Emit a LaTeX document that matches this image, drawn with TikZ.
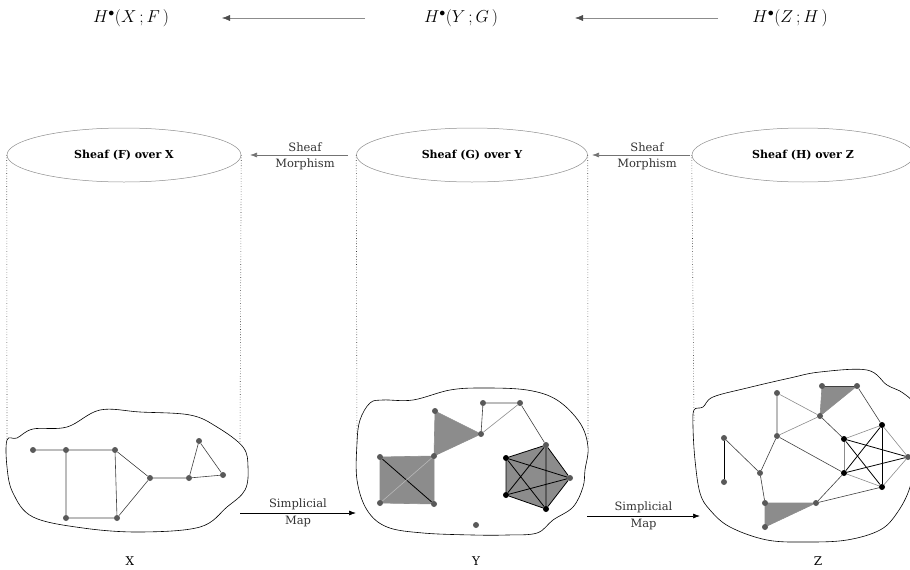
\documentclass[tikz,border=0pt]{standalone}
\usepackage{fontspec}
\setmainfont{DejaVu Serif}
\usetikzlibrary{shapes.geometric,arrows.meta,backgrounds}
\begin{document}
\begin{tikzpicture}[x=1pt,y=-1pt,
  dot/.style={circle,fill=black!65,inner sep=0pt,minimum size=6pt},
  bdot/.style={circle,fill=black,inner sep=0pt,minimum size=6pt},
  edge/.style={black!75,line width=0.6pt},
  ledge/.style={black!45,line width=0.6pt},
  wedge/.style={black!28,line width=0.6pt},
  kedge/.style={black,line width=0.8pt},
  tri/.style={fill=black!45},
  blob/.style={draw=black,line width=0.6pt},
  sheaf/.style={ellipse,draw=black!45,line width=0.5pt,inner sep=0pt,font=\fontsize{11}{13}\selectfont\bfseries},
  vdot/.style={dotted,black!80,line width=0.6pt},
  morph/.style={black!55,line width=0.7pt,-{Latex[length=7pt,width=5pt]}},
  smap/.style={black,line width=0.7pt,-{Latex[length=7pt,width=5pt]}},
  cohom/.style={font=\fontsize{17}{20}\selectfont},
  coarr/.style={black!45,line width=0.5pt,-{Latex[length=8pt,width=6pt,color=black!70]}},
  lbl/.style={font=\fontsize{11.5}{13}\selectfont,text=black!80,inner sep=3pt},
  space/.style={font=\fontsize{12}{14}\selectfont}
]
\useasboundingbox (0,0) rectangle (910,570);

% cohomology row
\node[cohom] (hx) at (131,18) {$H^{\bullet}\!\left(X\,;F\,\right)$};
\node[cohom] (hy) at (461,18) {$H^{\bullet}\!\left(Y\,;G\,\right)$};
\node[cohom] (hz) at (790,18) {$H^{\bullet}\!\left(Z\,;H\,\right)$};
\coordinate (ax1) at (365,18); \coordinate (ax2) at (222,18);
\coordinate (ay1) at (718,18); \coordinate (ay2) at (575,18);
\draw[coarr] (ax1) -- (ax2);
\draw[coarr] (ay1) -- (ay2);

% sheaf ellipses
\node[sheaf,minimum width=234pt,minimum height=54pt] (eF) at (124,155) {Sheaf (F) over X};
\node[sheaf,minimum width=231pt,minimum height=54pt] (eG) at (472,155) {Sheaf (G) over Y};
\node[sheaf,minimum width=222pt,minimum height=54pt] (eH) at (803,155) {Sheaf (H) over Z};

% sheaf morphisms
\coordinate (m1s) at (348,155); \coordinate (m1e) at (250,155);
\coordinate (m2s) at (690,155); \coordinate (m2e) at (592,155);
\draw[morph] (m1s) -- node[lbl,above,xshift=6pt] (sm1) {Sheaf} node[lbl,below,xshift=6pt] (mm1) {Morphism} (m1e);
\draw[morph] (m2s) -- node[lbl,above,xshift=6pt] (sm2) {Sheaf} node[lbl,below,xshift=6pt] (mm2) {Morphism} (m2e);

% dotted sides
\coordinate (dF1) at (7,440); \coordinate (dF2) at (240,443);
\coordinate (dG1) at (357,442); \coordinate (dG2) at (588,442);
\coordinate (dH1) at (694,422);
\draw[vdot] (eF.west) -- (dF1);
\draw[vdot] (eF.east) -- (dF2);
\draw[vdot] (eG.west) -- (dG1);
\draw[vdot] (eG.east) -- (dG2);
\draw[vdot] (eH.west) -- (dH1);

% blobs
\draw[blob] plot[smooth cycle,tension=0.6] coordinates {(7,440) (17,438) (33,429) (67,427) (100,410) (140,412) (190,415) (217,427) (243,447) (248,467) (245,490) (227,507) (200,527) (140,532) (83,528) (33,517) (13,493) (7,467)};
\draw[blob] plot[smooth cycle,tension=0.6] coordinates {(357,443) (360,420) (370,403) (383,400) (413,400) (450,390) (483,388) (527,390) (557,400) (580,423) (588,447) (585,470) (583,487) (573,507) (553,520) (537,533) (507,535) (473,535) (423,533) (387,527) (367,510) (357,480)};
\draw[blob] plot[smooth cycle,tension=0.6] coordinates {(694,410) (703,407) (713,397) (747,388) (790,378) (820,372) (867,370) (887,385) (903,393) (914,407) (916,450) (910,487) (897,513) (880,530) (847,540) (807,542) (767,540) (730,527) (710,510) (700,493) (695,460) (693,427)};

% simplicial maps
\coordinate (s1s) at (240,513); \coordinate (s1e) at (356,513);
\coordinate (s2s) at (587,516); \coordinate (s2e) at (700,516);
\draw[smap] (s1s) -- node[lbl,above] (sl1) {Simplicial} node[lbl,below] (ml1) {Map} (s1e);
\draw[smap] (s2s) -- node[lbl,above] (sl2) {Simplicial} node[lbl,below] (ml2) {Map} (s2e);

% space labels
\node[space] (lx) at (130,561) {X};
\node[space] (ly) at (476,561) {Y};
\node[space] (lz) at (818,561) {Z};

% ---------- X graph
\node[dot] (x1) at (33,450) {};
\node[dot] (x2) at (66,450) {};
\node[dot] (x3) at (115,450) {};
\node[dot] (x4) at (150,478) {};
\node[dot] (x5) at (66,518) {};
\node[dot] (x6) at (117,518) {};
\node[dot] (x7) at (189,478) {};
\node[dot] (x8) at (199,441) {};
\node[dot] (x9) at (223,475) {};
\begin{scope}[on background layer]
\draw[edge] (x1) -- (x2) -- (x3) -- (x4) -- (x7) -- (x8) -- (x9) -- (x7);
\draw[edge] (x2) -- (x5) -- (x6) -- (x4);
\draw[edge] (x3) -- (x6);
\end{scope}

% ---------- Y graph
\node[dot] (y1) at (380,457) {};
\node[dot] (y2) at (434,456) {};
\node[dot] (y3) at (380,503) {};
\node[dot] (y4) at (434,504) {};
\node[dot] (y5) at (435,411) {};
\node[dot] (y6) at (481,434) {};
\node[dot] (y7) at (483,403) {};
\node[dot] (y8) at (520,403) {};
\node[dot] (p1) at (546,445) {};
\node[bdot] (p2) at (506,458) {};
\node[dot] (p3) at (570,478) {};
\node[bdot] (p4) at (506,495) {};
\node[bdot] (p5) at (546,509) {};
\node[dot] (y9) at (476,525) {};
\begin{scope}[on background layer]
\fill[tri] (y1.center) -- (y2.center) -- (y4.center) -- (y3.center) -- cycle;
\fill[tri] (y5.center) -- (y6.center) -- (y2.center) -- cycle;
\fill[tri] (p1.center) -- (p3.center) -- (p5.center) -- (p4.center) -- (p2.center) -- cycle;
\draw[ledge] (y1) -- (y2) -- (y4) -- (y3) -- (y1);
\draw[kedge] (y1) -- (y4);
\draw[wedge] (y3) -- (y2);
\draw[ledge] (y5) -- (y6) -- (y2) -- (y5);
\draw[edge] (y6) -- (y7) -- (y8) -- (p1);
\draw[ledge] (y6) -- (y8);
\draw[kedge] (p1) -- (p3) -- (p5) -- (p4) -- (p2) -- (p1);
\draw[kedge] (p2) -- (p3) (p2) -- (p5) (p4) -- (p1) (p4) -- (p3) (p1) -- (p5);
\end{scope}

% ---------- Z graph
\node[dot] (z1) at (724,438) {};
\node[dot] (z2) at (724,482) {};
\node[dot] (z3) at (760,473) {};
\node[dot] (z4) at (777,393) {};
\node[dot] (z5) at (777,436) {};
\node[dot] (z6) at (822,386) {};
\node[dot] (z7) at (857,386) {};
\node[dot] (z8) at (820,416) {};
\node[bdot] (z9) at (844,439) {};
\node[bdot] (z10) at (844,473) {};
\node[bdot] (z11) at (882,425) {};
\node[dot] (z12) at (908,457) {};
\node[bdot] (z13) at (882,487) {};
\node[dot] (z14) at (765,503) {};
\node[dot] (z15) at (816,503) {};
\node[dot] (z16) at (765,527) {};
\begin{scope}[on background layer]
\fill[tri] (z6.center) -- (z7.center) -- (z8.center) -- cycle;
\fill[tri] (z14.center) -- (z15.center) -- (z16.center) -- cycle;
\draw[kedge] (z1) -- (z2);
\draw[edge] (z1) -- (z3) -- (z5) -- (z4);
\draw[ledge] (z4) -- (z8) -- (z5);
\draw[edge] (z6) -- (z7);
\draw[ledge] (z6) -- (z8) -- (z7);
\draw[edge] (z8) -- (z9);
\draw[edge] (z5) -- (z10);
\draw[edge] (z7) -- (z11);
\draw[edge] (z3) -- (z14);
\draw[ledge] (z14) -- (z15) -- (z16) -- (z14);
\draw[edge] (z15) -- (z10);
\draw[edge] (z15) -- (z13);
\draw[ledge] (z9) -- (z11);
\draw[ledge] (z9) -- (z10);
\draw[kedge] (z11) -- (z13);
\draw[ledge] (z10) -- (z13);
\draw[ledge] (z12) -- (z11);
\draw[ledge] (z12) -- (z13);
\draw[kedge] (z9) -- (z13);
\draw[kedge] (z11) -- (z10);
\draw[kedge] (z9) -- (z12);
\draw[kedge] (z10) -- (z12);
\end{scope}
\end{tikzpicture}
\end{document}
